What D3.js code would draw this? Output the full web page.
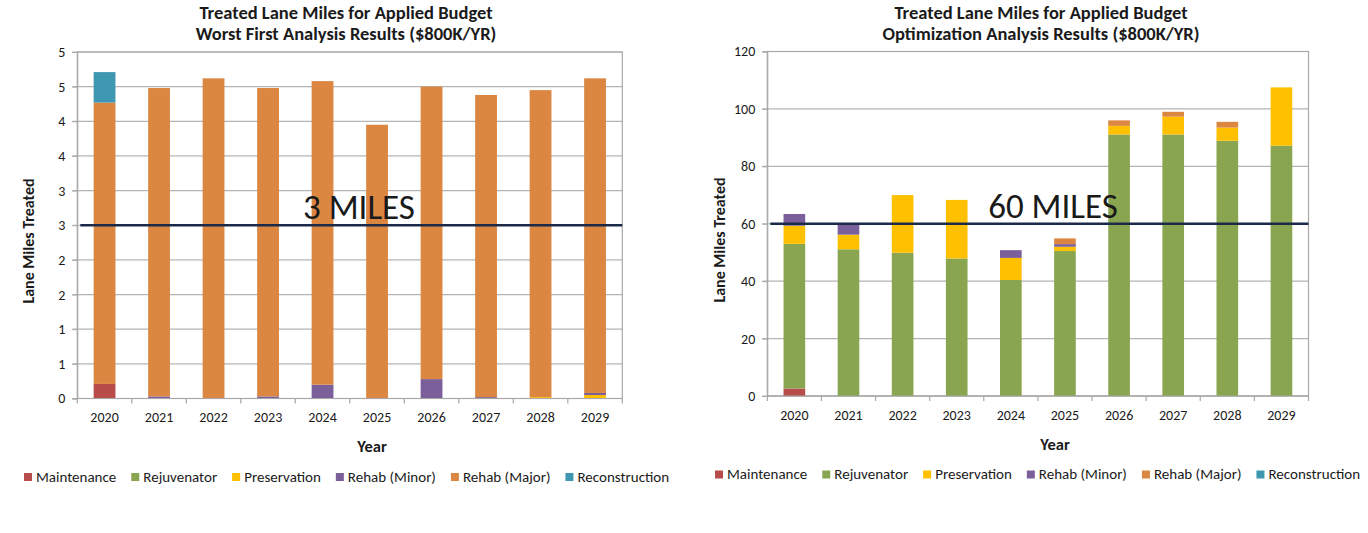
<!DOCTYPE html>
<html><head><meta charset="utf-8">
<script src="https://cdn.jsdelivr.net/npm/d3@7"></script>
<style>
body{margin:0;background:#fff}
svg{display:block}
text{font-family:Carlito,Lato,sans-serif;fill:#1a1a1a}
</style>
</head><body>
<svg id="chart" width="1368" height="533"></svg>
<script>
// ---------- DATA ----------
const years = ["2020","2021","2022","2023","2024","2025","2026","2027","2028","2029"];
const seriesNames = ["Maintenance","Rejuvenator","Preservation","Rehab (Minor)","Rehab (Major)","Reconstruction"];
const seriesColors = ["#b84c4b","#8aa54f","#ffc000","#7b5f9a","#db8641","#3f98b1"];

// Worst First analysis (lane miles)
const wfMaintenance    = [0.21,0,0,0,0,0,0,0,0,0];
const wfRejuvenator    = [0,0,0,0,0,0,0,0,0,0];
const wfPreservation   = [0,0,0,0,0,0,0,0,0.02,0.05];
const wfRehabMinor     = [0,0.03,0,0.03,0.20,0,0.28,0.02,0,0.03];
const wfRehabMajor     = [4.06,4.45,4.62,4.45,4.38,3.95,4.22,4.36,4.43,4.54];
const wfReconstruction = [0.44,0,0,0,0,0,0,0,0,0];
const wfTickValues = [0,0.5,1,1.5,2,2.5,3,3.5,4,4.5,5];
const wfTickLabels = ["0","1","1","2","2","3","3","4","4","5","5"];
const wfTarget = 2.5;
const wfTargetLabel = "3 MILES";
const wfTitle = ["Treated Lane Miles for Applied Budget","Worst First Analysis Results ($800K/YR)"];

// Optimization analysis (lane miles)
const opMaintenance    = [2.6,0,0,0,0,0,0,0,0,0];
const opRejuvenator    = [50.4,51.1,49.9,47.9,40.4,50.5,91.1,91.1,88.9,87.2];
const opPreservation   = [6.3,5.1,20.1,20.4,7.7,1.5,3.0,6.2,4.6,20.3];
const opRehabMinor     = [4.1,3.7,0,0,2.7,0.9,0,0,0,0];
const opRehabMajor     = [0,0,0,0,0,2.0,1.9,1.7,2.0,0];
const opReconstruction = [0,0,0,0,0,0,0,0,0,0];
const opTickValues = [0,20,40,60,80,100,120];
const opTickLabels = ["0","20","40","60","80","100","120"];
const opTarget = 60;
const opTargetLabel = "60 MILES";
const opTitle = ["Treated Lane Miles for Applied Budget","Optimization Analysis Results ($800K/YR)"];

const yAxisTitle = "Lane Miles Treated";
const xAxisTitle = "Year";

// ---------- DRAW ----------
const svg = d3.select("#chart");

function buildRows(cols){
  return years.map((y,i)=>{
    const r = {year:y};
    seriesNames.forEach((s,k)=>{ r[s] = cols[k][i]; });
    return r;
  });
}

function drawChart(cfg){
  const g = svg.append("g");
  const {L,R,T,B} = cfg.plot;
  const x = d3.scaleBand().domain(years).range([L,R]).padding(0);
  const y = d3.scaleLinear().domain([cfg.ticks[0], cfg.ticks[cfg.ticks.length-1]]).range([B,T]);

  // gridlines
  g.append("g").selectAll("line").data(cfg.ticks).join("line")
    .attr("x1",L-5).attr("x2",R).attr("y1",d=>y(d)).attr("y2",d=>y(d))
    .attr("stroke","#b4b4b4").attr("stroke-width",1.2);
  // plot border
  g.append("rect").attr("x",L).attr("y",T).attr("width",R-L).attr("height",B-T)
    .attr("fill","none").attr("stroke","#a8a8a8").attr("stroke-width",1.2);

  // y axis
  const ya = d3.axisLeft(y).tickValues(cfg.ticks).tickFormat((d,i)=>cfg.tickLabels[i]).tickSize(5).tickPadding(7);
  const yg = g.append("g").attr("transform",`translate(${L},0)`).call(ya);
  yg.select(".domain").attr("stroke","#a8a8a8");
  yg.selectAll(".tick line").attr("stroke","#a8a8a8");
  yg.selectAll("text").style("font-size","14px").attr("fill","#1a1a1a");

  // stacked bars
  const stack = d3.stack().keys(seriesNames)(buildRows(cfg.cols));
  g.append("g").selectAll("g").data(stack).join("g")
    .attr("fill",(d,i)=>seriesColors[i])
    .selectAll("rect").data(d=>d).join("rect")
    .attr("x",d=>x(d.data.year)+x.bandwidth()*0.3)
    .attr("width",x.bandwidth()*0.4)
    .attr("y",d=>y(d[1]))
    .attr("height",d=>Math.max(0,y(d[0])-y(d[1])));

  // x axis
  g.append("line").attr("x1",L).attr("x2",R).attr("y1",B).attr("y2",B).attr("stroke","#a8a8a8").attr("stroke-width",1.2);
  const bounds = years.map(d=>x(d)).concat([R]);
  g.append("g").selectAll("line").data(bounds).join("line")
    .attr("x1",d=>d).attr("x2",d=>d).attr("y1",B).attr("y2",B+5)
    .attr("stroke","#a8a8a8").attr("stroke-width",1.2);
  g.append("g").selectAll("text").data(years).join("text")
    .attr("x",d=>x(d)+x.bandwidth()/2).attr("y",cfg.xLabelY)
    .attr("text-anchor","middle").style("font-size","14px").text(d=>d);

  // target line
  g.append("line").attr("x1",L+3).attr("x2",R).attr("y1",y(cfg.target)).attr("y2",y(cfg.target))
    .attr("stroke","#1c2a4a").attr("stroke-width",2.6);
  g.append("text").attr("x",cfg.targetX).attr("y",y(cfg.target)-6)
    .attr("text-anchor","middle").style("font-size","35px").attr("fill","#000")
    .text(cfg.targetLabel);

  // titles
  cfg.title.forEach((t,i)=>{
    g.append("text").attr("x",cfg.titleX).attr("y",18.5+i*21.5)
      .attr("text-anchor","middle").style("font-size","18.5px").style("font-weight","bold").text(t);
  });
  g.append("text").attr("transform",`translate(${cfg.yTitleX},${cfg.yTitleY}) rotate(-90)`)
    .attr("text-anchor","middle").style("font-size","16px").style("font-weight","bold").text(yAxisTitle);
  g.append("text").attr("x",cfg.xTitleX).attr("y",cfg.xTitleY)
    .attr("text-anchor","middle").style("font-size","16.5px").style("font-weight","bold").text(xAxisTitle);

  // legend
  let lx = cfg.legendX;
  const lg = g.append("g");
  seriesNames.forEach((s,i)=>{
    lg.append("rect").attr("x",lx).attr("y",cfg.legendY-8.5).attr("width",8).attr("height",8).attr("fill",seriesColors[i]);
    const t = lg.append("text").attr("x",lx+12).attr("y",cfg.legendY).style("font-size","15px").text(s);
    lx += 12 + t.node().getComputedTextLength() + cfg.legendGap;
  });
}

drawChart({
  plot:{L:77.3,R:622.3,T:52,B:398.5},
  cols:[wfMaintenance,wfRejuvenator,wfPreservation,wfRehabMinor,wfRehabMajor,wfReconstruction],
  ticks:wfTickValues, tickLabels:wfTickLabels,
  target:wfTarget, targetLabel:wfTargetLabel, targetX:359,
  title:wfTitle, titleX:346,
  yTitleX:34, yTitleY:241,
  xLabelY:421.5, xTitleX:372, xTitleY:452,
  legendX:24, legendY:481.5, legendGap:15
});

drawChart({
  plot:{L:767.3,R:1308.5,T:51.5,B:396},
  cols:[opMaintenance,opRejuvenator,opPreservation,opRehabMinor,opRehabMajor,opReconstruction],
  ticks:opTickValues, tickLabels:opTickLabels,
  target:opTarget, targetLabel:opTargetLabel, targetX:1053,
  title:opTitle, titleX:1041,
  yTitleX:725, yTitleY:240,
  xLabelY:420, xTitleX:1055, xTitleY:450,
  legendX:715, legendY:479, legendGap:15
});
</script>
</body></html>
